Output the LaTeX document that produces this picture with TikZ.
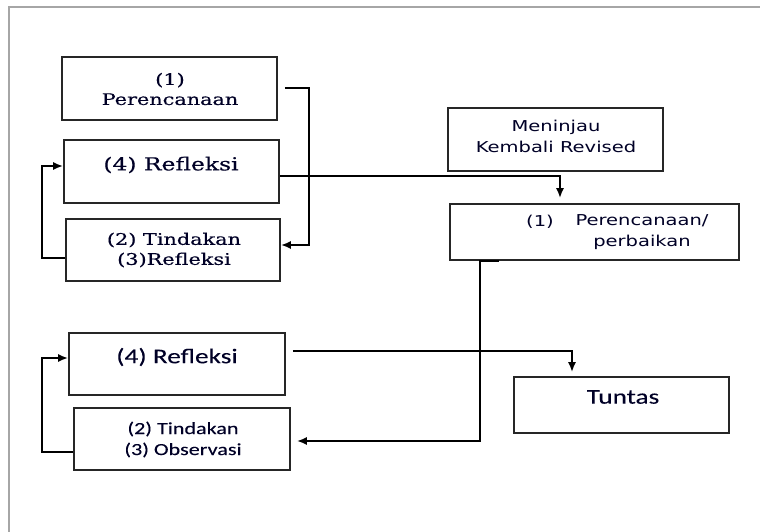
\documentclass[tikz,border=0pt]{standalone}
\usepackage{fontspec}
\usetikzlibrary{arrows.meta}
\newfontfamily\fSerif[FakeStretch=1.3,FakeBold=0.4]{DejaVu Serif}
\newfontfamily\fTah[FakeStretch=1.3]{DejaVu Sans}
\newfontfamily\fCal[FakeStretch=1.3,FakeBold=0.1]{Carlito}
\begin{document}
\begin{tikzpicture}[x=1pt,y=-1pt,
  box/.style={draw=black!85,line width=1.6pt,inner sep=0pt,rectangle},
  conn/.style={draw=black,line width=2pt,-{Latex[length=10pt,width=8pt]}},
  txt/.style={inner sep=0pt,text=black!85!blue,align=center}]
\useasboundingbox (0,0) rectangle (760,532);
\draw[gray!70,line width=1.6pt] (9,532) -- (9,7) -- (760,7);
% boxes
\node[box,minimum width=215pt,minimum height=63pt] (A) at (169.5,88.5) {};
\node[box,minimum width=215pt,minimum height=63pt] (B) at (171.5,171.5) {};
\node[box,minimum width=214pt,minimum height=62pt] (C) at (173,250) {};
\node[box,minimum width=215pt,minimum height=63pt] (M) at (555.5,139.5) {};
\node[box,minimum width=289pt,minimum height=56pt] (D) at (594.5,232) {};
\node[box,minimum width=216pt,minimum height=62pt] (E) at (177,364) {};
\node[box,minimum width=216pt,minimum height=62pt] (F) at (182,439) {};
\node[box,minimum width=215pt,minimum height=56pt] (T) at (621.5,405) {};
% texts
\node[txt,font=\fSerif\fontsize{16}{20}\selectfont] (tA) at (170,89) {(1)\\Perencanaan};
\node[txt,font=\fSerif\fontsize{18}{22}\selectfont] (tB) at (171,165) {(4) Refleksi};
\node[txt,font=\fSerif\fontsize{16}{20}\selectfont] (tC) at (174,250) {(2) Tindakan\\(3)Refleksi};
\node[txt,font=\fTah\fontsize{15}{21}\selectfont] (tM) at (556,136.5) {Meninjau\\Kembali Revised};
\node[txt,font=\fTah\fontsize{15}{21}\selectfont] (tD1) at (540,222) {(1)};
\node[txt,font=\fTah\fontsize{15}{21}\selectfont] (tD2) at (642,232.5) {Perencanaan/\\perbaikan};
\node[txt,font=\fCal\fontsize{21}{25}\selectfont] (tE) at (177,357) {(4) Refleksi};
\node[txt,font=\fCal\fontsize{17}{21}\selectfont] (tF) at (183,439.5) {(2) Tindakan\\(3) Observasi};
\node[txt,font=\fCal\fontsize{21}{25}\selectfont] (tT) at (623,397) {Tuntas};
% connectors
\draw[conn] ([xshift=7pt]A.east) -- ++(24,0) |- ([yshift=5pt]C.east);
\draw[conn] ([yshift=-4.5pt]B.east) -| ([xshift=-34.5pt,yshift=5pt]D.north);
\draw[conn] ([yshift=-8pt]C.west) -- ++(-23,0) |- ([yshift=5.5pt]B.west);
\draw[conn] ([xshift=-95.5pt]D.south) -- ([xshift=-114.5pt]D.south) |- ([xshift=6pt,yshift=-2pt]F.east);
\draw[conn] ([yshift=-13pt]F.west) -- ++(-31,0) |- ([yshift=6pt]E.west);
\draw[conn] ([xshift=7pt,yshift=13pt]E.east) -| ([xshift=-49.5pt,yshift=4pt]T.north);
\end{tikzpicture}
\end{document}
